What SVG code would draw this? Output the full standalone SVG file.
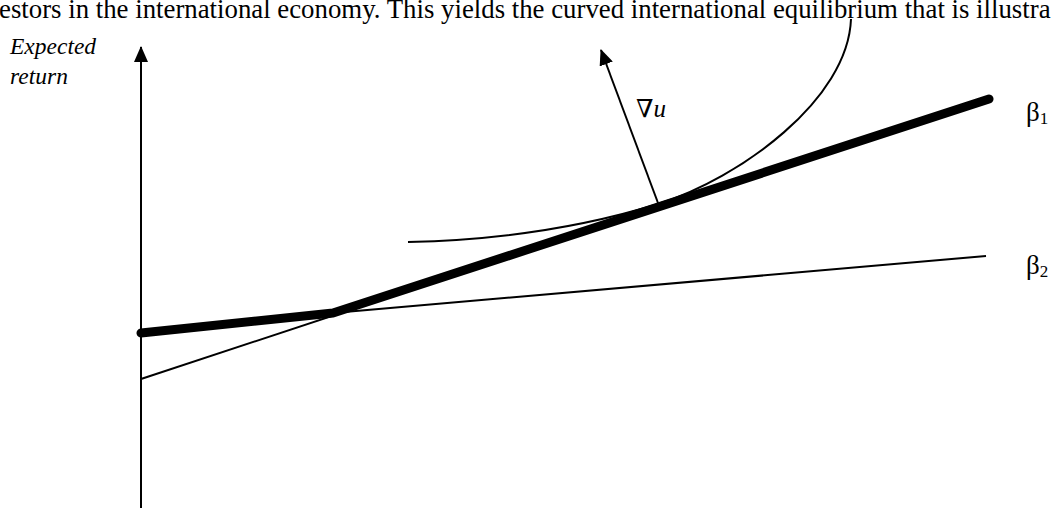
<svg xmlns="http://www.w3.org/2000/svg" width="1052" height="508" viewBox="0 0 1052 508">
<style>
.t{font-family:"Liberation Serif","Times New Roman","DejaVu Serif",serif;fill:#000}
.thin{stroke:#000;stroke-width:2;fill:none}
.thick{stroke:#000;stroke-width:9;fill:none;stroke-linecap:round;stroke-linejoin:round}
</style>
<defs>
<marker id="ah" viewBox="0 0 16 14" refX="15" refY="7" markerWidth="16" markerHeight="14" markerUnits="userSpaceOnUse" orient="auto">
<path d="M0,0 L16,7 L0,14 Z" fill="#000"/>
</marker>
</defs>
<rect width="1052" height="508" fill="#fff"/>
<text class="t" x="-1" y="18" font-size="26.8">estors in the international economy. This yields the curved international equilibrium that is illustra</text>
<g id="axis">
<line class="thin" x1="141" y1="508" x2="141" y2="47" marker-end="url(#ah)"/>
<text class="t" x="10" y="54" font-size="23.5" font-style="italic">Expected</text>
<text class="t" x="10" y="84" font-size="23.5" font-style="italic">return</text>
</g>
<g id="connectors">
<line class="thin" x1="141" y1="379" x2="989" y2="99"/>
<line class="thin" x1="333" y1="313" x2="986" y2="256"/>
<path class="thin" d="M408,242 C500,240 580,228 658,204 C740,178 848,100 851,19"/>
<polyline class="thick" points="141,333 333,313 989,99"/>
<line class="thin" x1="658" y1="203" x2="601" y2="50" marker-end="url(#ah)"/>
</g>
<g id="labels">
<text class="t" x="636" y="117" font-size="25">∇<tspan font-style="italic">u</tspan></text>
<text class="t" x="1026" y="121" font-size="27">β<tspan font-size="17" dy="3">1</tspan></text>
<text class="t" x="1026" y="274" font-size="27">β<tspan font-size="17" dy="3">2</tspan></text>
</g>
</svg>
